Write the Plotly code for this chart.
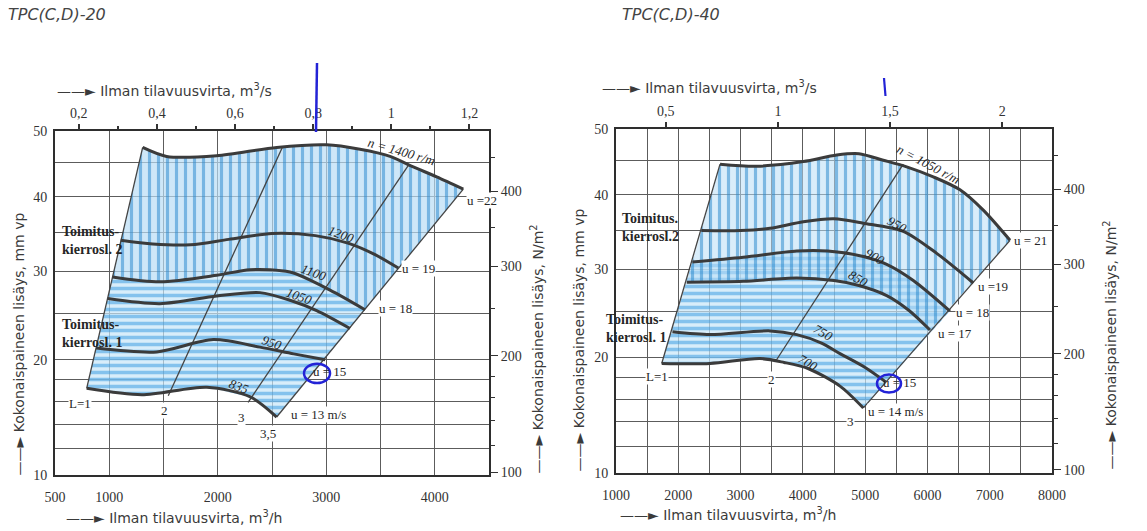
import numpy as np
import plotly.graph_objects as go

W, H = 1147, 531
PA_PER_MM = 9.80665

# ---------------- TPC(C,D)-20 (left chart) ----------------
# flow in m3/h, total pressure rise in mm vp
c1_n1400_q = [1308, 1529, 1990, 2543, 3004, 3311, 3588, 3802, 4018, 4263]
c1_n1400_p = [47.4, 46.0, 46.1, 47.4, 47.8, 47.1, 46.0, 44.4, 42.9, 41.1]
c1_n1200_q = [1105, 1400, 1750, 2100, 2500, 2900, 3200, 3450, 3664]
c1_n1200_p = [34.0, 33.5, 33.4, 34.1, 34.9, 34.6, 33.6, 32.1, 30.4]
c1_n1100_q = [1030, 1468, 1990, 2297, 2666, 3035, 3357]
c1_n1100_p = [29.3, 28.7, 29.5, 30.2, 29.9, 27.7, 25.4]
c1_n1050_q = [985, 1468, 1990, 2389, 2666, 2912, 3219]
c1_n1050_p = [26.7, 26.1, 27.0, 27.4, 26.5, 25.3, 23.3]
c1_n950_q = [878, 1437, 1959, 2389, 2700, 2990]
c1_n950_p = [21.2, 20.8, 22.1, 21.3, 20.6, 20.0]
c1_n835_q = [792, 1300, 1900, 2300, 2543]
c1_n835_p = [17.2, 16.6, 17.3, 16.4, 14.6]

c1_L_names = ["L=1", "2", "3", "3,5"]
c1_L_q = [[792, 1308], [1544, 2598], [2280, 3760], [2543, 4263]]
c1_L_p = [[17.2, 47.4], [16.5, 47.5], [15.9, 44.7], [14.6, 41.1]]

# ---------------- TPC(C,D)-40 (right chart) ----------------
c2_n1050_q = [2670, 3260, 4007, 4543, 4900, 5291, 5667, 6094, 6523, 6897, 7326]
c2_n1050_p = [44.5, 44.2, 44.9, 45.9, 46.1, 45.1, 44.1, 42.6, 40.7, 37.8, 33.7]
c2_n950_q = [2370, 3000, 3472, 4007, 4500, 4971, 5612, 6149, 6737]
c2_n950_p = [35.0, 35.0, 35.3, 36.2, 36.6, 36.0, 34.9, 32.0, 28.3]
c2_n900_q = [2225, 3044, 3901, 4400, 4971, 5346, 5773, 6362]
c2_n900_p = [30.9, 31.5, 32.3, 32.3, 31.6, 30.6, 28.6, 25.0]
c2_n850_q = [2136, 3044, 3901, 4500, 4900, 5346, 5700, 6041]
c2_n850_p = [28.4, 28.5, 28.9, 28.6, 28.0, 26.8, 25.1, 22.9]
c2_n750_q = [1906, 2509, 3472, 3901, 4300, 4596, 5000, 5330]
c2_n750_p = [22.7, 22.4, 22.8, 22.4, 21.5, 20.4, 19.0, 17.6]
c2_n700_q = [1734, 2509, 3312, 3700, 4083, 4596, 4971]
c2_n700_p = [19.4, 19.4, 19.9, 19.5, 18.9, 17.2, 15.2]

c2_L_names = ["L=1", "2", "3"]
c2_L_q = [[1734, 2670], [3560, 5612], [4971, 7326]]
c2_L_p = [[19.4, 44.5], [19.6, 44.5], [15.2, 33.7]]

# ---------------- axes ----------------
grid_mm = [10, 12, 14, 16, 18, 20, 25, 30, 35, 40, 45, 50]
label_mm = [10, 20, 30, 40, 50]
pa_major = [100, 200, 300, 400]
pa_minor = [120, 140, 160, 180, 250, 350, 450]
c1_xgrid = list(range(500, 4501, 500))
c1_xlabels = [500, 1000, 2000, 3000, 4000]
c2_xgrid = list(range(1000, 8001, 500))
c2_xlabels = [1000, 2000, 3000, 4000, 5000, 6000, 7000, 8000]
c1_m3s = [0.2, 0.4, 0.6, 0.8, 1.0, 1.2]
c1_m3s_text = ["0,2", "0,4", "0,6", "0,8", "1", "1,2"]
c1_m3s_minor = [0.3, 0.5, 0.7, 0.9, 1.1]
c2_m3s = [0.5, 1.0, 1.5, 2.0]
c2_m3s_text = ["0,5", "1", "1,5", "2"]


def S(v):
    return np.sqrt(np.asarray(v, dtype=float))


SERIF = "Liberation Serif"
SANS = "DejaVu Sans"
INK = "#333333"
CURVE = "#3b3b3b"

fig = go.Figure()


def region(qt, pt, qb, pb, xa, ya, shape, fg, bg, size, sol):
    x = list(qt) + list(qb)[::-1] + [qt[0]]
    y = list(S(pt)) + list(S(pb))[::-1] + [float(S(pt)[0])]
    fig.add_trace(go.Scatter(
        x=x, y=y, xaxis=xa, yaxis=ya, mode="lines",
        line=dict(width=0, color="rgba(0,0,0,0)"),
        fill="toself", fillcolor=bg,
        fillpattern=dict(shape=shape, fgcolor=fg, bgcolor=bg, size=size, solidity=sol),
        hoverinfo="skip", showlegend=False))


def curve(q, p, xa, ya, w=3.0):
    fig.add_trace(go.Scatter(
        x=q, y=S(p), xaxis=xa, yaxis=ya, mode="lines",
        line=dict(color=CURVE, width=w, shape="spline", smoothing=0.8),
        hoverinfo="skip", showlegend=False))


def sline(q, p, xa, ya):
    fig.add_trace(go.Scatter(
        x=q, y=S(p), xaxis=xa, yaxis=ya, mode="lines",
        line=dict(color="#444444", width=1.3),
        hoverinfo="skip", showlegend=False))


HBLUE = "#2f97e0"
VBLUE = "#1f83cc"
# chart 1 regions
region(c1_n1100_q, c1_n1100_p, c1_n835_q, c1_n835_p, "x", "y", "-", HBLUE,
       "rgba(200,230,248,0.7)", 7, 0.5)
region(c1_n1400_q, c1_n1400_p, c1_n1100_q, c1_n1100_p, "x", "y", "|", VBLUE,
       "rgba(185,222,246,0.7)", 9, 0.35)
# chart 2 regions
region(c2_n900_q, c2_n900_p, c2_n700_q, c2_n700_p, "x2", "y2", "-", HBLUE,
       "rgba(200,230,248,0.7)", 7, 0.5)
region(c2_n1050_q, c2_n1050_p, c2_n850_q, c2_n850_p, "x2", "y2", "|", VBLUE,
       "rgba(185,222,246,0.55)", 9, 0.35)

for q, p in zip(c1_L_q, c1_L_p):
    sline(q, p, "x", "y")
for q, p in zip(c2_L_q, c2_L_p):
    sline(q, p, "x2", "y2")

for q, p in [(c1_n1400_q, c1_n1400_p), (c1_n1200_q, c1_n1200_p), (c1_n1100_q, c1_n1100_p),
             (c1_n1050_q, c1_n1050_p), (c1_n950_q, c1_n950_p), (c1_n835_q, c1_n835_p)]:
    curve(q, p, "x", "y")
for q, p in [(c2_n1050_q, c2_n1050_p), (c2_n950_q, c2_n950_p), (c2_n900_q, c2_n900_p),
             (c2_n850_q, c2_n850_p), (c2_n750_q, c2_n750_p), (c2_n700_q, c2_n700_p)]:
    curve(q, p, "x2", "y2")

# invisible traces so the overlay axes are drawn
for xa, ya in [("x3", "y"), ("x4", "y2"), ("x", "y3"), ("x2", "y4")]:
    fig.add_trace(go.Scatter(x=[None], y=[None], xaxis=xa, yaxis=ya, mode="lines",
                             hoverinfo="skip", showlegend=False))

TICKFONT = dict(family=SERIF, size=14, color=INK)


def bottom_axis(domain, rng, grid, labels, anchor):
    return dict(domain=domain, range=rng, anchor=anchor, type="linear", tickmode="array",
                tickvals=grid, ticktext=[str(g) if g in labels else " " for g in grid],
                showgrid=True, gridcolor="#5c5c5c", gridwidth=1.1, zeroline=False,
                showline=True, linecolor="#2e2e2e", linewidth=2, mirror=True,
                ticks="", tickfont=TICKFONT, ticklabelstandoff=8, automargin=False)


def left_axis(domain, anchor):
    return dict(domain=domain, range=[float(S(10)), float(S(50))], anchor=anchor, type="linear",
                tickmode="array", tickvals=list(S(grid_mm)),
                ticktext=[str(g) if g in label_mm else " " for g in grid_mm],
                showgrid=True, gridcolor="#5c5c5c", gridwidth=1.1, zeroline=False,
                showline=True, linecolor="#2e2e2e", linewidth=2, mirror=True,
                ticks="", tickfont=TICKFONT, ticklabelstandoff=3, automargin=False)


def top_axis(over, anchor, rng, vals, texts, minor_vals):
    d = dict(overlaying=over, side="top", anchor=anchor, range=rng, type="linear",
             tickmode="array", tickvals=[v * 3600 for v in vals], ticktext=texts,
             ticks="outside", ticklen=6, tickwidth=1.5, tickcolor=INK,
             showgrid=False, zeroline=False, showline=False, tickfont=TICKFONT,
             automargin=False)
    if minor_vals:
        d["minor"] = dict(tickmode="array", tickvals=[v * 3600 for v in minor_vals],
                          ticks="outside", ticklen=4, tickcolor=INK, showgrid=False)
    return d


def right_axis(over, anchor):
    return dict(overlaying=over, side="right", anchor=anchor,
                range=[float(S(10)), float(S(50))], type="linear", tickmode="array",
                tickvals=list(S(np.array(pa_major) / PA_PER_MM)),
                ticktext=[str(v) for v in pa_major],
                ticks="outside", ticklen=8, tickwidth=1.3, tickcolor=INK,
                minor=dict(tickmode="array", tickvals=list(S(np.array(pa_minor) / PA_PER_MM)),
                           ticks="outside", ticklen=5, tickcolor=INK, showgrid=False),
                showgrid=False, zeroline=False, showline=False, tickfont=TICKFONT,
                automargin=False)


c1_xdom = [55 / W, 489 / W]
c1_ydom = [(H - 475) / H, (H - 131) / H]
c2_xdom = [616 / W, 1052 / W]
c2_ydom = [(H - 472.7) / H, (H - 129) / H]

ann = []


def lab(text, q, p, xr, yr, size=13, angle=0, xanchor="center", bg=None, family=SERIF,
        italic=False, align="center", bold=False):
    d = dict(text=text, x=q, y=float(np.sqrt(p)), xref=xr, yref=yr, showarrow=False,
             textangle=angle, xanchor=xanchor, yanchor="middle", align=align,
             font=dict(family=family, size=size, color="#262626",
                       style="italic" if italic else "normal",
                       weight="bold" if bold else "normal"))
    if bg:
        d["bgcolor"] = bg
        d["borderpad"] = 0
    ann.append(d)


def ptext(text, px, py, size=14, angle=0, xanchor="left", yanchor="middle", family=SANS,
          italic=False, color="#3a3a3a"):
    ann.append(dict(text=text, x=px / W, y=(H - py) / H, xref="paper", yref="paper",
                    showarrow=False, textangle=angle, xanchor=xanchor, yanchor=yanchor,
                    font=dict(family=family, size=size, color=color,
                              style="italic" if italic else "normal")))


# chart titles & axis titles
ptext("TPC(C,D)-20", 6, 15, size=16, italic=True, color="#444")
ptext("TPC(C,D)-40", 620, 15, size=16, italic=True, color="#444")
ptext("——► Ilman tilavuusvirta, m<sup>3</sup>/s", 55, 90)
ptext("——► Ilman tilavuusvirta, m<sup>3</sup>/h", 64, 517)
ptext("——► Ilman tilavuusvirta, m<sup>3</sup>/s", 600, 87)
ptext("——► Ilman tilavuusvirta, m<sup>3</sup>/h", 618, 514)
ptext("——► Kokonaispaineen lisäys, mm vp", 18, 478, angle=-90, xanchor="center", yanchor="bottom")
ptext("——► Kokonaispaineen lisäys, N/m<sup>2</sup>", 537, 476, angle=-90, xanchor="center", yanchor="bottom")
ptext("——► Kokonaispaineen lisäys, mm vp", 578, 474, angle=-90, xanchor="center", yanchor="bottom")
ptext("——► Kokonaispaineen lisäys, N/m<sup>2</sup>", 1110, 472, angle=-90, xanchor="center", yanchor="bottom")

# chart 1 labels
lab("n = 1400 r/m", 3696, 46.8, "x", "y", angle=16, italic=True)
for t, q, p in [("1200", 3143, 34.8), ("1100", 2887, 29.8), ("1050", 2758, 27.0),
                ("950", 2497, 21.8), ("835", 2196, 17.4)]:
    lab(t, q, p, "x", "y", angle=20, italic=True)
for t, q, p in [("u =22", 4290, 39.5), ("u = 19", 3690, 30.4), ("u = 18", 3480, 25.6),
                ("u = 15", 2860, 18.8), ("u = 13 m/s", 2666, 14.8)]:
    lab(t, q, p, "x", "y", xanchor="left", bg="white" if t != "u = 15" else None)
for t, q, p in [("L=1", 730, 15.8), ("2", 1507, 15.2), ("3", 2221, 14.6), ("3,5", 2466, 13.2)]:
    lab(t, q, p, "x", "y", bg="white")
lab("Toimitus-<br>kierrosl. 2", 546, 34.0, "x", "y", size=14, xanchor="left", align="left",
    bold=True)
lab("Toimitus-<br>kierrosl. 1", 546, 22.8, "x", "y", size=14, xanchor="left", align="left",
    bold=True)

# chart 2 labels
lab("n = 1050 r/m", 6025, 44.5, "x2", "y2", angle=28, italic=True)
for t, q, p in [("950", 5507, 35.8), ("900", 5158, 31.6), ("850", 4885, 28.8),
                ("750", 4323, 22.6), ("700", 4083, 19.5)]:
    lab(t, q, p, "x2", "y2", angle=30, italic=True)
for t, q, p in [("u = 21", 7374, 33.7), ("u =19", 6791, 27.9), ("u = 18", 6443, 24.8),
                ("u = 17", 6149, 22.5), ("u = 15", 5250, 17.5), ("u = 14 m/s", 5025, 14.9)]:
    lab(t, q, p, "x2", "y2", xanchor="left", bg="white" if t != "u = 15" else None)
for t, q, p in [("L=1", 1666, 18.1), ("2", 3500, 17.8), ("3", 4757, 14.0)]:
    lab(t, q, p, "x2", "y2", bg="white")
lab("Toimitus.<br>kierrosl.2", 1064, 35.4, "x2", "y2", size=14, xanchor="left", align="left",
    bold=True)
lab("Toimitus-<br>kierrosl. 1", 1835, 23.1, "x2", "y2", size=14, xanchor="right", align="left",
    bold=True)

# blue pen marks on the scan
PEN = "#2323d6"
shapes = [
    dict(type="line", xref="paper", yref="paper", x0=317 / W, x1=316 / W,
         y0=(H - 63) / H, y1=(H - 132) / H, line=dict(color=PEN, width=2.5)),
    dict(type="line", xref="paper", yref="paper", x0=884 / W, x1=885.5 / W,
         y0=(H - 78) / H, y1=(H - 96) / H, line=dict(color=PEN, width=2.2)),
    dict(type="circle", xref="x", yref="y", x0=2795, x1=3035,
         y0=float(S(17.7)), y1=float(S(19.6)), line=dict(color=PEN, width=2.5)),
    dict(type="circle", xref="x2", yref="y2", x0=5190, x1=5576,
         y0=float(S(16.6)), y1=float(S(18.3)), line=dict(color=PEN, width=2.5)),
]

fig.update_layout(
    width=W, height=H, autosize=False,
    margin=dict(l=0, r=0, t=0, b=0),
    paper_bgcolor="white", plot_bgcolor="white",
    showlegend=False,
    xaxis=bottom_axis(c1_xdom, [500, 4500], c1_xgrid, c1_xlabels, "y"),
    yaxis=left_axis(c1_ydom, "x"),
    xaxis2=bottom_axis(c2_xdom, [1000, 8000], c2_xgrid, c2_xlabels, "y2"),
    yaxis2=left_axis(c2_ydom, "x2"),
    xaxis3=top_axis("x", "y", [500, 4500], c1_m3s, c1_m3s_text, c1_m3s_minor),
    xaxis4=top_axis("x2", "y2", [1000, 8000], c2_m3s, c2_m3s_text, None),
    yaxis3=right_axis("y", "x"),
    yaxis4=right_axis("y2", "x2"),
    annotations=ann,
    shapes=shapes,
)

fig.write_html("out.html", config={"displayModeBar": False},
               post_script="document.body.style.margin='0';document.body.style.overflow='hidden';")
